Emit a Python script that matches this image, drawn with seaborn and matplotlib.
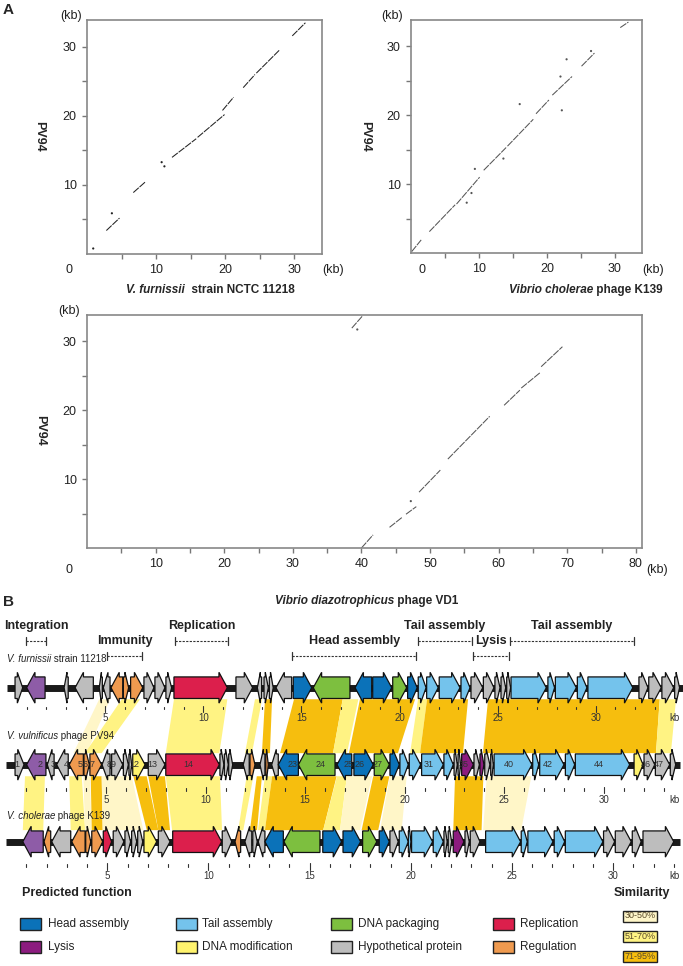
import numpy as np
import pandas as pd
import matplotlib.pyplot as plt
import seaborn as sns
from matplotlib.patches import Polygon, Rectangle

sns.set_theme(style="white")
plt.rcParams['font.family'] = ['Liberation Sans', 'DejaVu Sans']

W, H = 683, 966

# -------------------------------
# Panel A: dot plot segments (kb); x = compared genome, y = PV94
# -------------------------------
fur_x0 = [2.8, 6.7, 12.3, 16.0, 19.6, 22.6, 24.5, 29.7]
fur_y0 = [3.4, 8.9, 14.0, 16.9, 20.8, 24.1, 26.2, 31.6]
fur_x1 = [4.7, 8.5, 15.8, 19.9, 21.2, 24.3, 27.8, 31.6]
fur_y1 = [5.2, 10.5, 16.7, 20.2, 22.7, 26.0, 29.5, 33.5]
fur_dot_x = [0.9, 3.6, 10.8, 11.2]
fur_dot_y = [0.8, 5.9, 13.3, 12.7]

k139_x0 = [0.1, 2.7, 6.7, 10.7, 14.2, 18.4, 20.8, 25.1, 30.8]
k139_y0 = [0.2, 3.1, 7.1, 12.0, 15.5, 20.2, 22.9, 27.1, 32.7]
k139_x1 = [1.5, 6.5, 10.1, 14.0, 18.0, 20.3, 23.7, 27.0, 32.0]
k139_y1 = [1.9, 7.0, 11.0, 15.3, 19.4, 22.2, 25.6, 29.0, 33.5]
k139_dot_x = [16.0, 9.4, 13.6, 8.9, 8.2, 22.2, 22.0, 22.9, 26.5]
k139_dot_y = [21.6, 12.2, 13.7, 8.7, 7.3, 20.7, 25.6, 28.1, 29.3]

vd1_x0 = [40.0, 44.1, 46.5, 48.4, 52.6, 60.8, 63.3, 66.2, 38.6]
vd1_y0 = [0.0, 3.0, 4.9, 8.1, 12.9, 20.7, 23.2, 26.3, 31.9]
vd1_x1 = [41.7, 46.0, 48.0, 51.5, 58.7, 63.1, 66.0, 69.3, 40.1]
vd1_y1 = [1.9, 4.5, 6.0, 11.3, 19.1, 22.9, 25.4, 29.2, 33.6]
vd1_dot_x = [39.4, 47.2]
vd1_dot_y = [31.7, 6.8]

# -------------------------------
# Panel B: gene maps (kb of each genome)
# -------------------------------
cat_color = {'H': '#0b72b9', 'T': '#74c3ec', 'P': '#7dbf3f', 'R': '#dc1f4c',
             'L': '#8c1c7f', 'M': '#fff36e', 'X': '#bdbdbd', 'G': '#ef9a4f',
             'I': '#8e5ca7'}

fur_start = [0.40, 0.99, 2.90, 3.46, 4.69, 4.90, 5.29, 5.92, 6.29, 6.97, 7.53, 8.09, 8.50, 11.66,
             12.75, 13.09, 13.36, 13.70, 14.58, 15.60, 17.73, 18.63, 19.65, 20.41, 20.95, 21.38,
             22.02, 23.13, 23.64, 24.27, 24.86, 25.17, 25.46, 25.68, 27.56, 27.94, 29.06, 29.60,
             32.20, 32.70, 33.37, 34.02]
fur_end = [0.79, 1.93, 3.11, 4.39, 4.85, 5.24, 5.89, 6.19, 6.91, 7.48, 8.04, 8.38, 11.22, 12.51,
           12.97, 13.31, 13.56, 14.50, 15.52, 17.47, 18.58, 19.60, 20.36, 20.90, 21.35, 21.97,
           23.08, 23.59, 24.24, 24.81, 25.12, 25.41, 25.66, 27.48, 27.90, 29.01, 29.55, 31.89,
           32.66, 33.34, 33.97, 34.27]
fur_strand = "+------+++++++-++-+--+++++++++++++++++++++"
fur_cat = "XIXXXXGGGXXXRXXXXXHPHHPHTTTTXXXXXTTTTTXXXX"

pv_start = [0.43, 1.01, 2.05, 2.52, 3.15, 3.89, 4.19, 4.80, 5.28, 5.87, 6.15, 6.34, 7.12, 8.00,
            10.72, 10.94, 11.16, 11.89, 12.23, 12.73, 13.02, 13.32, 13.65, 14.66, 16.60, 17.45,
            18.47, 19.26, 19.76, 20.23, 20.85, 21.97, 22.48, 22.68, 22.86, 23.48, 23.78, 24.02,
            24.32, 24.49, 26.43, 26.78, 28.07, 28.57, 31.52, 32.02, 32.59, 33.34]
pv_end = [0.88, 1.98, 2.39, 3.10, 3.86, 4.16, 4.78, 5.20, 5.84, 6.12, 6.29, 6.96, 7.96, 10.69,
          10.92, 11.14, 11.36, 12.19, 12.48, 12.98, 13.15, 13.65, 14.66, 16.50, 17.34, 18.42,
          19.23, 19.73, 20.18, 20.80, 21.94, 22.44, 22.64, 22.81, 23.45, 23.75, 23.98, 24.28,
          24.45, 26.39, 26.73, 28.00, 28.54, 31.30, 31.97, 32.56, 33.31, 33.61]
pv_strand = "+----++-" + "+++++++++" + "-+-+" + "----" + "+" * 23
pv_cat = "XIXXGGGXXXXMXRXXXXGXGXHPHHPHTTTTXXLXLXXTTTTTMXXX"
pv_label = ['1', '2', '3', '4', '5', '6', '7', '8', '9', '', '', '12', '13', '14',
            '', '', '', '', '', '', '', '', '23', '24', '25', '26', '27', '', '', '', '31', '',
            '', '', '35', '', '', '', '', '40', '', '42', '', '44', '', '46', '47', '']

k_start = [0.82, 1.87, 2.25, 3.24, 3.93, 4.23, 4.80, 5.29, 5.87, 6.20, 6.50, 6.81, 7.52, 8.23,
           10.68, 11.31, 11.80, 12.19, 12.46, 12.79, 13.73, 15.65, 16.65, 17.62, 18.44, 18.97,
           19.43, 19.88, 20.04, 21.11, 21.64, 21.85, 22.10, 22.68, 22.94, 23.70, 25.46, 25.79,
           27.09, 27.64, 29.53, 30.11, 30.95, 31.48]
k_end = [1.83, 2.20, 3.19, 3.90, 4.18, 4.77, 5.21, 5.82, 6.15, 6.45, 6.75, 7.44, 8.10, 10.65,
         11.15, 11.59, 12.14, 12.41, 12.79, 13.70, 15.51, 16.58, 17.52, 18.32, 18.94, 19.38,
         19.88, 20.01, 21.08, 21.61, 21.80, 22.02, 22.63, 22.89, 23.42, 25.43, 25.76, 27.03,
         27.61, 29.50, 30.08, 30.90, 31.39, 33.00]
k_strand = "----+++++++++++--+---+++++++++++++++++++++++"
k_cat = "IGXGGGRXXXXMXRXGXXXHPHHPHXTTTTXXLXXTTTTTXXXX"

track_len = [34.6, 33.83, 33.3]

# similarity ribbons: genome A start/end, genome B start/end, level (1: 30-50, 2: 51-70, 3: 71-95)
r12_a0 = [4.69, 5.84, 8.50, 12.63, 13.14, 14.62, 17.10, 17.98, 20.94, 21.40, 24.51, 33.26]
r12_a1 = [5.24, 6.77, 11.22, 12.99, 13.50, 17.10, 17.90, 20.79, 21.40, 23.49, 33.26, 34.09]
r12_b0 = [3.36, 3.94, 8.00, 11.98, 12.83, 13.74, 16.40, 17.20, 20.27, 20.77, 23.93, 32.62]
r12_b1 = [4.03, 4.78, 10.69, 12.33, 13.23, 16.40, 17.10, 19.66, 20.77, 22.93, 32.62, 33.37]
r12_lvl = [1, 2, 2, 2, 3, 3, 2, 3, 2, 3, 3, 2]

r23_a0 = [0.93, 3.15, 3.86, 4.23, 4.78, 6.37, 7.12, 8.00, 12.06, 12.57, 12.98, 13.34, 16.60,
          17.10, 18.42, 19.26, 22.53, 24.12]
r23_a1 = [1.93, 3.78, 4.19, 4.78, 6.29, 7.04, 7.96, 10.72, 12.40, 12.83, 13.34, 16.58, 17.10,
          18.36, 19.23, 20.10, 23.95, 26.36]
r23_b0 = [0.82, 3.19, 3.90, 4.23, 4.77, 6.95, 7.52, 8.20, 11.47, 12.05, 12.45, 12.79, 15.67,
          16.50, 17.57, 18.48, 22.10, 23.58]
r23_b1 = [1.83, 3.90, 4.23, 4.77, 6.78, 7.52, 8.10, 10.67, 11.72, 12.40, 12.79, 15.67, 16.50,
          17.49, 18.39, 19.55, 23.50, 25.46]
r23_lvl = [2, 2, 1, 3, 1, 3, 3, 2, 2, 3, 2, 3, 2, 1, 3, 1, 3, 1]

sim_color = {1: '#fff6c8', 2: '#fff383', 3: '#f6be0e'}
sim_text = ['30-50%', '51-70%', '71-95%']

# functional regions (kb on V. furnissii map), row 0 = upper bracket
region_name = ['Integration', 'Immunity', 'Replication', 'Head assembly', 'Tail assembly',
               'Lysis', 'Tail assembly']
region_start = [0.96, 5.10, 8.54, 14.53, 20.92, 23.73, 25.63]
region_end = [1.98, 6.86, 11.27, 20.84, 23.67, 25.59, 31.95]
region_row = [0, 1, 0, 1, 0, 1, 0]

legend_names = ['Head assembly', 'Tail assembly', 'DNA packaging', 'Replication',
                'Lysis', 'DNA modification', 'Hypothetical protein', 'Regulation']
legend_cats = ['H', 'T', 'P', 'R', 'L', 'M', 'X', 'G']

fig = plt.figure(figsize=(W / 100, H / 100), dpi=100)


def fx(px):
    return px / W


def fy(py):
    return 1 - py / H


def mixed(ax, px, py, parts, size, **kw):
    prev = None
    for txt, style in parts:
        if prev is None:
            prev = ax.annotate(txt, xy=(fx(px), fy(py)), xycoords='figure fraction',
                               ha='left', va='center', fontstyle=style, fontsize=size, **kw)
        else:
            prev = ax.annotate(txt, xy=(1, 0), xycoords=prev, ha='left', va='bottom',
                               fontstyle=style, fontsize=size, **kw)


def dotplot(rect, x0, y0, x1, y1, dx, dy, xmax, ymax, col):
    ax = fig.add_axes(rect)
    seg = pd.DataFrame({'seg': np.repeat(np.arange(len(x0)), 2),
                        'x': np.ravel(np.column_stack([x0, x1])),
                        'y': np.ravel(np.column_stack([y0, y1]))})
    sns.lineplot(data=seg, x='x', y='y', units='seg', estimator=None, sort=False,
                 color=col, lw=0.75, ax=ax)
    for ln in ax.lines:
        ln.set_dashes([7, 1])
    sns.scatterplot(x=dx, y=dy, s=2.5, color=col, edgecolor='none', ax=ax)
    ax.set_xlim(0, xmax)
    ax.set_ylim(0, ymax)
    xt = np.arange(5, xmax, 5)
    yt = np.arange(5, ymax, 5)
    ax.set_xticks(xt)
    ax.set_xticklabels([f'{v:g}' if v % 10 == 0 else '' for v in xt])
    ax.set_yticks(yt)
    ax.set_yticklabels([f'{v:g}' if v % 10 == 0 else '' for v in yt])
    ax.tick_params(bottom=True, left=True, direction='out', length=3.5, width=1,
                   color='#777777', labelsize=9, labelcolor='#222222', pad=4)
    for s in ax.spines.values():
        s.set_color('#888888')
        s.set_linewidth(1.2)
    ax.set_xlabel('')
    ax.set_ylabel('')
    return ax


ax1 = dotplot([fx(87), fy(254), fx(322) - fx(87), fy(20) - fy(254)],
              fur_x0, fur_y0, fur_x1, fur_y1, fur_dot_x, fur_dot_y, 34.0, 33.9, '#222222')
ax2 = dotplot([fx(411), fy(253), fx(642) - fx(411), fy(20) - fy(253)],
              k139_x0, k139_y0, k139_x1, k139_y1, k139_dot_x, k139_dot_y, 34.0, 33.8, '#555555')
ax3 = dotplot([fx(87), fy(548), fx(642) - fx(87), fy(315) - fy(548)],
              vd1_x0, vd1_y0, vd1_x1, vd1_y1, vd1_dot_x, vd1_dot_y, 80.9, 33.8, '#555555')

txt_kw = dict(fontsize=9, color='#222222', ha='center', va='center')
for (kx, ky), (zx, zy), (rx, ry) in [((71, 16), (69, 270), (333, 270)),
                                     ((392, 16), (422, 270), (653, 270)),
                                     ((69, 311), (69, 570), (657, 570))]:
    fig.text(fx(kx), fy(ky), '(kb)', **txt_kw)
    fig.text(fx(zx), fy(zy), '0', **txt_kw)
    fig.text(fx(rx), fy(ry), '(kb)', **txt_kw)

for px, py in [(39, 136), (365, 136), (40, 430)]:
    fig.text(fx(px), fy(py), 'PV94', rotation=270, fontsize=9, fontweight='bold',
             ha='center', va='center')

mixed(ax1, 126, 290, [('V. furnissii', 'italic'), ('  strain NCTC 11218', 'normal')], 8.5,
      fontweight='bold')
mixed(ax2, 509, 290, [('Vibrio cholerae', 'italic'), (' phage K139', 'normal')], 8.5,
      fontweight='bold')
mixed(ax3, 275, 601, [('Vibrio diazotrophicus', 'italic'), (' phage VD1', 'normal')], 8.5,
      fontweight='bold')

fig.text(fx(8), fy(10), 'A', fontsize=11, fontweight='bold', ha='center', va='center')
fig.text(fx(8), fy(602), 'B', fontsize=11, fontweight='bold', ha='center', va='center')

# -------------------------------
# Panel B
# -------------------------------
axb = fig.add_axes([0, 0, 1, fy(595)])
axb.set_xlim((0 - 6.5) / 19.91, (W - 6.5) / 19.91)
axb.set_ylim((H - 687.7) / 77, (595 - 687.7) / 77)
axb.axis('off')

t_off = [0.035, 0.0, -0.015]
t_sc = [0.9854, 1.0, 1.016]


def tx(t, kb):
    return t_off[t] + t_sc[t] * np.asarray(kb)


h_body, h_head = 0.14, 0.20


def draw_gene(t, s, e, strand, cat, label=''):
    xs, xe = float(tx(t, s)), float(tx(t, e))
    hl = min(0.42, 0.7 * (xe - xs))
    y = t
    if strand == '+':
        pts = [(xs, y - h_body), (xe - hl, y - h_body), (xe - hl, y - h_head), (xe, y),
               (xe - hl, y + h_head), (xe - hl, y + h_body), (xs, y + h_body)]
        cx = (xs + xe - hl) / 2
    else:
        pts = [(xe, y - h_body), (xs + hl, y - h_body), (xs + hl, y - h_head), (xs, y),
               (xs + hl, y + h_head), (xs + hl, y + h_body), (xe, y + h_body)]
        cx = (xs + hl + xe) / 2
    axb.add_patch(Polygon(pts, closed=True, facecolor=cat_color[cat], edgecolor='#111111',
                          lw=0.9, zorder=3))
    if label:
        axb.text(cx, y, label, fontsize=6.5, color='#333333', ha='center', va='center', zorder=4)


tracks = [(fur_start, fur_end, fur_strand, fur_cat, None),
          (pv_start, pv_end, pv_strand, pv_cat, pv_label),
          (k_start, k_end, k_strand, k_cat, None)]

tick_top = [0.247, 0.303, 0.294]
lab_off = [0.397, 0.455, 0.442]
for t, (st, en, sd, ct, lb) in enumerate(tracks):
    axb.plot([tx(t, 0), tx(t, track_len[t])], [t, t], color='#1a1a1a', lw=5,
             solid_capstyle='butt', zorder=2)
    for i in range(len(st)):
        draw_gene(t, st[i], en[i], sd[i], ct[i], lb[i] if lb else '')
    for k in range(1, 34):
        y0 = t + tick_top[t]
        if k % 5 == 0:
            axb.plot([tx(t, k)] * 2, [y0 - 0.015, y0 + 0.07], color='#333333', lw=0.8)
            axb.text(tx(t, k), t + lab_off[t], str(k), fontsize=7, color='#333333',
                     ha='center', va='center')
        else:
            axb.plot([tx(t, k)] * 2, [y0, y0 + 0.035], color='#333333', lw=0.8)
    axb.text((675 - 6.5) / 19.91, t + lab_off[t], 'kb', fontsize=7, color='#333333',
             ha='center', va='center')


def ribbons(t, a0, a1, b0, b1, lvl):
    ytop, ybot = t + 0.15, t + 1 - 0.15
    for i in range(len(a0)):
        pts = [(tx(t, a0[i]), ytop), (tx(t, a1[i]), ytop),
               (tx(t + 1, b1[i]), ybot), (tx(t + 1, b0[i]), ybot)]
        axb.add_patch(Polygon(pts, closed=True, facecolor=sim_color[lvl[i]],
                              edgecolor='none', zorder=1))


ribbons(0, r12_a0, r12_a1, r12_b0, r12_b1, r12_lvl)
ribbons(1, r23_a0, r23_a1, r23_b0, r23_b1, r23_lvl)

# track names
mixed(axb, 7, 659, [('V. furnissii', 'italic'), (' strain 11218', 'normal')], 7,
      color='#222222')
mixed(axb, 7, 736, [('V. vulnificus', 'italic'), (' phage PV94', 'normal')], 7,
      color='#222222')
mixed(axb, 7, 816, [('V. cholerae', 'italic'), (' phage K139', 'normal')], 7,
      color='#222222')

# functional region brackets
br_y = [(641 - 687.7) / 77, (656 - 687.7) / 77]
for name, s, e, r in zip(region_name, region_start, region_end, region_row):
    x0, x1 = float(tx(0, s)), float(tx(0, e))
    y = br_y[r]
    axb.plot([x0, x1], [y, y], color='#333333', lw=0.8, dashes=[2, 1.2])
    axb.plot([x0, x0], [y - 0.055, y + 0.055], color='#333333', lw=0.9)
    axb.plot([x1, x1], [y - 0.055, y + 0.055], color='#333333', lw=0.9)
    axb.text((x0 + x1) / 2, y - 0.195, name, fontsize=9, fontweight='bold', color='#222222',
             ha='center', va='center')

# legend: predicted function
fig.text(fx(22), fy(893), 'Predicted function', fontsize=9, fontweight='bold',
         ha='left', va='center', color='#222222')
col_box = [20, 175.7, 331, 493.3]
col_txt = [47.7, 202.3, 358.3, 520]
row_y = [923.5, 947.3]
for i, (name, cat) in enumerate(zip(legend_names, legend_cats)):
    r, c = divmod(i, 4)
    fig.add_artist(Rectangle((fx(col_box[c]), fy(row_y[r] + 6)), fx(21), 12 / H,
                             transform=fig.transFigure, facecolor=cat_color[cat],
                             edgecolor='#222222', lw=1))
    fig.text(fx(col_txt[c]), fy(row_y[r]), name, fontsize=8.5, color='#222222',
             ha='left', va='center')

# legend: similarity
fig.text(fx(641.7), fy(893), 'Similarity', fontsize=9, fontweight='bold',
         ha='center', va='center', color='#222222')
for i, (lvl, lab) in enumerate(zip([1, 2, 3], sim_text)):
    cy = [916, 936.7, 956.7][i]
    fig.add_artist(Rectangle((fx(622.7), fy(cy + 5.5)), fx(34.6), 11 / H,
                             transform=fig.transFigure, facecolor=sim_color[lvl],
                             edgecolor='#222222', lw=1))
    fig.text(fx(640), fy(cy), lab, fontsize=6.5, color='#5a4a2a', ha='center', va='center')

fig.savefig('out.png', dpi=100, facecolor='white')
